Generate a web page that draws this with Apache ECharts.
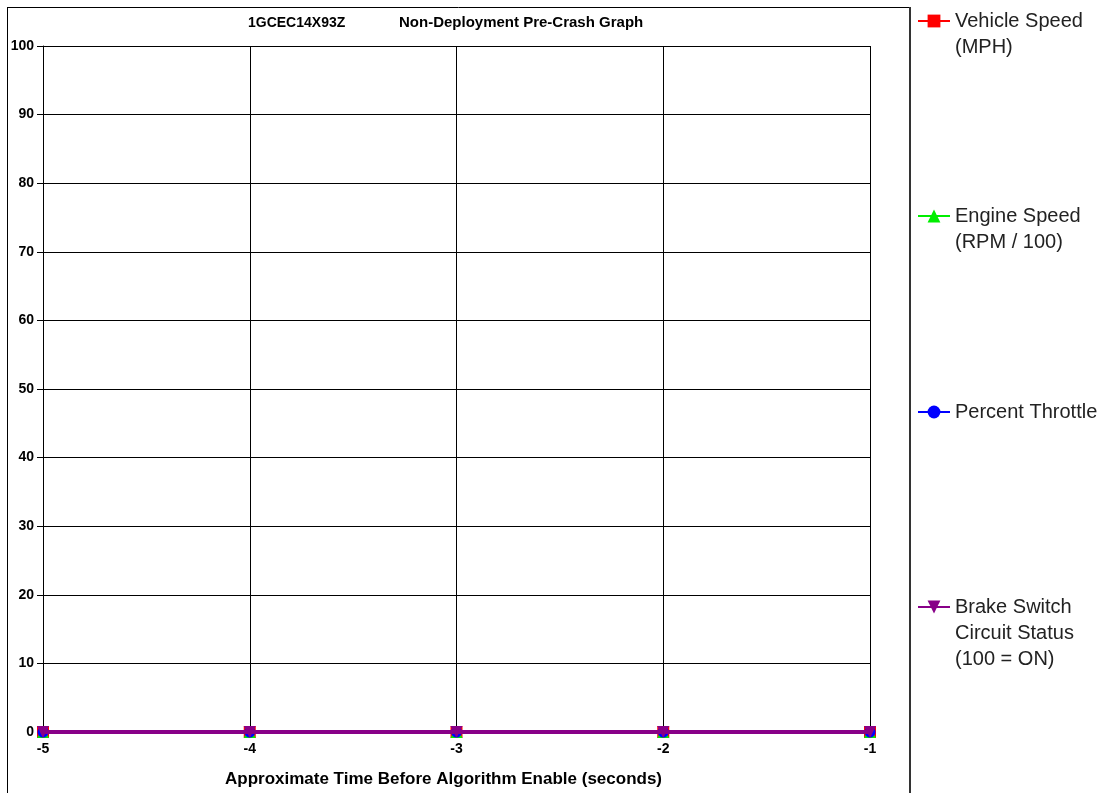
<!DOCTYPE html>
<html>
<head>
<meta charset="utf-8">
<script src="https://cdn.jsdelivr.net/npm/echarts@6/dist/echarts.min.js"></script>
<style>
html,body{margin:0;padding:0;background:#fff;overflow:hidden;}
#c{width:1104px;height:793px;}
</style>
</head>
<body>
<div id="c"></div>
<script>
// ---- data ----
const timeSeconds = [-5, -4, -3, -2, -1];
const vehicleSpeed = [0, 0, 0, 0, 0];
const engineSpeed = [0, 0, 0, 0, 0];
const percentThrottle = [0, 0, 0, 0, 0];
const brakeStatus = [0, 0, 0, 0, 0];
const seriesNames = ['Vehicle Speed\n(MPH)', 'Engine Speed\n(RPM / 100)', 'Percent Throttle', 'Brake Switch\nCircuit Status\n(100 = ON)'];
const seriesColors = ['#ff0000', '#00ee00', '#0000ff', '#880088'];
const titleVin = '1GCEC14X93Z';
const titleMain = 'Non-Deployment Pre-Crash Graph';
const xAxisName = 'Approximate Time Before Algorithm Enable (seconds)';

const values = [vehicleSpeed, engineSpeed, percentThrottle, brakeStatus];
const symbols = ['rect', 'triangle', 'circle', 'triangle'];
const rotates = [0, 0, 0, 180];
const iconCenters = [21, 216, 412, 607];
const LH = 26;
const FONT = 'Liberation Sans, Arial, sans-serif';

const chart = echarts.init(document.getElementById('c'), null, {renderer: 'canvas'});

const series = values.map((v, i) => ({
  name: seriesNames[i],
  type: 'line',
  data: timeSeconds.map((t, j) => [t, v[j]]),
  symbol: symbols[i],
  symbolRotate: rotates[i],
  symbolSize: i === 2 ? 11 : 12,
  lineStyle: {color: seriesColors[i], width: i === 3 ? 4 : 3},
  itemStyle: {color: seriesColors[i]},
  clip: false,
  z: 2 + i,
  animation: false
}));

const legends = seriesNames.map((n, i) => {
  const lines = n.split('\n').length;
  const block = LH * (2 * lines - 1);
  return {
    data: [n],
    left: 917,
    top: iconCenters[i] - block / 2,
    padding: 0,
    itemWidth: 32,
    itemHeight: 16,
    itemGap: 0,
    selectedMode: false,
    formatter: name => '\u00a0\n'.repeat(lines - 1) + name,
    textStyle: {
      fontFamily: FONT,
      fontSize: 20,
      lineHeight: LH,
      color: '#222'
    }
  };
});

chart.setOption({
  animation: false,
  backgroundColor: '#fff',
  title: [
    {text: titleVin, left: 248, top: 16, padding: 0,
     textStyle: {fontFamily: FONT, fontWeight: 'bold', fontSize: 14, color: '#000'}},
    {text: titleMain, left: 399, top: 15, padding: 0,
     textStyle: {fontFamily: FONT, fontWeight: 'bold', fontSize: 15, color: '#000'}}
  ],
  legend: legends,
  grid: {left: 43, right: 234, top: 46, bottom: 61, containLabel: false, outerBoundsMode: 'none'},
  xAxis: {
    type: 'value', min: -5, max: -1, interval: 1,
    name: xAxisName, nameLocation: 'middle', nameGap: 39,
    nameTextStyle: {fontFamily: FONT, fontWeight: 'bold', fontSize: 17, color: '#000', padding: [0, 26, 0, 0]},
    axisLine: {show: false},
    axisTick: {show: false},
    axisLabel: {fontFamily: FONT, fontWeight: 'bold', fontSize: 14, color: '#000', margin: 10},
    splitLine: {show: true, lineStyle: {color: '#000', width: 1}}
  },
  yAxis: {
    type: 'value', min: 0, max: 100, interval: 10,
    axisLine: {show: true, lineStyle: {color: '#000', width: 1}},
    axisTick: {show: true, length: 6, lineStyle: {color: '#000'}},
    axisLabel: {fontFamily: FONT, fontWeight: 'bold', fontSize: 14, color: '#000', margin: 9},
    splitLine: {show: true, lineStyle: {color: '#000', width: 1}}
  },
  graphic: [
    {type: 'line', shape: {x1: 7, y1: 7.5, x2: 910, y2: 7.5}, style: {stroke: '#000', lineWidth: 1}, silent: true},
    {type: 'line', shape: {x1: 7.5, y1: 7, x2: 7.5, y2: 793}, style: {stroke: '#000', lineWidth: 1}, silent: true},
    {type: 'line', shape: {x1: 910, y1: 7, x2: 910, y2: 793}, style: {stroke: '#333', lineWidth: 2}, silent: true}
  ],
  series: series
});
</script>
</body>
</html>
